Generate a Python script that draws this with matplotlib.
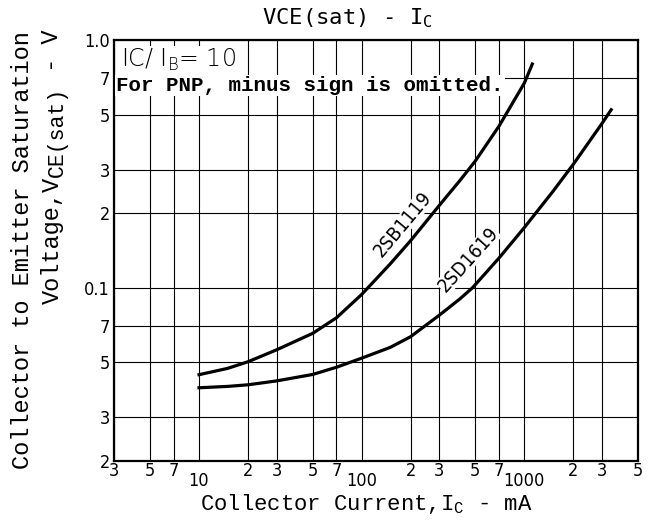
import matplotlib
matplotlib.use("Agg")
import matplotlib.pyplot as plt
from matplotlib.ticker import NullFormatter

# values (IC in mA, VCE(sat) in V)
ic_b1119 = [10, 15, 20, 30, 50, 70, 100, 150, 200, 300, 400, 500, 700, 1000, 1120]
vce_b1119 = [0.0446, 0.0473, 0.0503, 0.0562, 0.0655, 0.0757, 0.094, 0.125, 0.155,
             0.215, 0.27, 0.325, 0.45, 0.67, 0.80]

ic_d1619 = [10, 15, 20, 30, 50, 70, 100, 150, 200, 300, 400, 480, 700, 1000, 1500,
            2000, 3000, 3420]
vce_d1619 = [0.0395, 0.040, 0.0406, 0.0421, 0.0447, 0.0478, 0.052, 0.0575, 0.0635,
             0.0775, 0.090, 0.10, 0.132, 0.175, 0.245, 0.315, 0.46, 0.523]

x_major = [3, 5, 7, 20, 30, 50, 70, 200, 300, 500, 700, 2000, 3000, 5000]
x_major_labels = ["3", "5", "7", "2", "3", "5", "7", "2", "3", "5", "7", "2", "3", "5"]
x_decades = [10, 100, 1000]
x_decade_labels = ["10", "100", "1000"]

y_ticks = [0.02, 0.03, 0.05, 0.07, 0.1, 0.2, 0.3, 0.5, 0.7, 1.0]
y_labels = ["2", "3", "5", "7", "0.1", "2", "3", "5", "7", "1.0"]

tick_font = ["DejaVu Sans"]
mono = ["Liberation Mono", "DejaVu Sans Mono"]

W, H = 656, 523
fig = plt.figure(figsize=(6.56, 5.23), dpi=100)
ax = fig.add_axes([114 / W, 1 - 461 / H, 524 / W, 421 / H])
ax.set_xscale("log")
ax.set_yscale("log")
ax.set_xlim(3, 5000)
ax.set_ylim(0.02, 1.0)

# grid only at the labelled values
for v in x_major + x_decades:
    ax.axvline(v, color="black", lw=0.8, zorder=1)
for v in y_ticks:
    ax.axhline(v, color="black", lw=0.8, zorder=1)

ax.plot(ic_b1119, vce_b1119, color="black", lw=2.3, zorder=3)
ax.plot(ic_d1619, vce_d1619, color="black", lw=2.3, zorder=3)

ax.xaxis.set_major_formatter(NullFormatter())
ax.xaxis.set_minor_formatter(NullFormatter())
ax.yaxis.set_minor_formatter(NullFormatter())
ax.set_xticks(x_major)
ax.set_xticklabels(x_major_labels, family=tick_font, fontsize=13, fontstretch="condensed")
# decade labels sit a bit lower, as on the datasheet
ax.set_xticks(x_decades, minor=True)
ax.set_xticklabels(x_decade_labels, minor=True, family=tick_font, fontsize=13,
                   fontstretch="condensed")
ax.set_yticks(y_ticks)
ax.set_yticklabels(y_labels, family=tick_font, fontsize=13, fontstretch="condensed")
ax.set_yticks([], minor=True)
ax.tick_params(which="both", length=0)
ax.tick_params(axis="x", which="major", pad=1)
ax.tick_params(axis="x", which="minor", pad=8)
ax.tick_params(axis="y", pad=3)

for s in ax.spines.values():
    s.set_linewidth(1.6)

ax.text(3.3, 0.83, "IC/ I$_\\mathregular{B}$= 10", family=["DejaVu Sans"],
        fontsize=17, fontweight="light", va="center", ha="left", zorder=4,
        bbox=dict(facecolor="white", edgecolor="none", pad=1))
ax.text(3.1, 0.655, "For PNP, minus sign is omitted.", family=mono,
        fontsize=15, fontweight="bold", va="center", ha="left", zorder=4,
        bbox=dict(facecolor="white", edgecolor="none", pad=1))

ax.text(179, 0.18, "2SB1119", family=tick_font, fontsize=14, rotation=50,
        ha="center", va="center", zorder=4, fontstretch="condensed",
        bbox=dict(facecolor="white", edgecolor="none", pad=0))
ax.text(453, 0.13, "2SD1619", family=tick_font, fontsize=14, rotation=48,
        ha="center", va="center", zorder=4, fontstretch="condensed",
        bbox=dict(facecolor="white", edgecolor="none", pad=0))

fig.text(348 / W, 1 - 18 / H, "VCE(sat) - I$_\\mathregular{C}$",
         family=["DejaVu Sans Mono"], fontsize=16, ha="center", va="center")
fig.text(366 / W, 1 - 504 / H, "Collector Current,I$_\\mathregular{C}$ - mA",
         family=mono, fontsize=16, ha="center", va="center")
fig.text(23 / W, 1 - 250 / H, "Collector to Emitter Saturation",
         family=mono, fontsize=17, rotation=90, ha="center", va="center")

# second y-label line built from pieces so the subscript stays large
renderer = fig.canvas.get_renderer()
parts = [("Voltage,V", 17, 0), ("CE(sat)", 15.5, 5), (" - V", 17, 0)]
y_top = 30
for txt, size, dx in reversed(parts):
    t = fig.text((52 + dx) / W, 1 - y_top / H, txt, family=mono, fontsize=size,
                 rotation=90, ha="center", va="top")
    y_top += t.get_window_extent(renderer).height

fig.savefig("out.png", dpi=100)
